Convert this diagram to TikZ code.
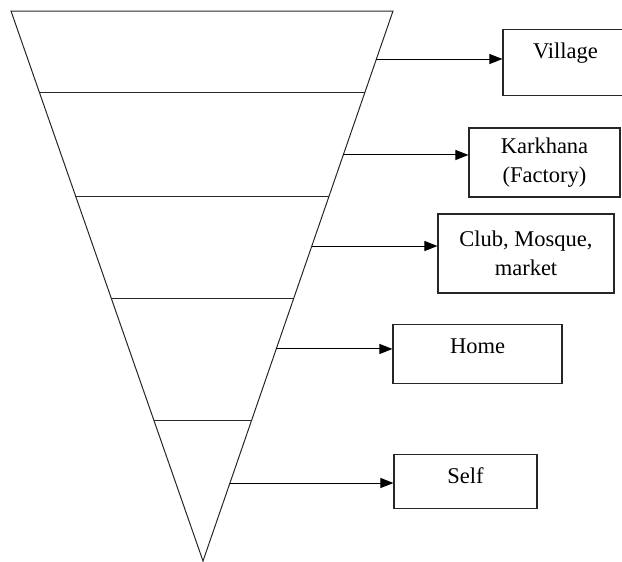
\documentclass[tikz,border=0pt]{standalone}
\usepackage{fontspec}
\setmainfont{Liberation Serif}
\usetikzlibrary{calc,arrows.meta}
\newcommand{\levelfont}{\fontsize{22.5}{29.5}\selectfont}
\tikzstyle{funnel}=[line width=1pt, black!85]
\tikzstyle{level}=[draw, line width=1.1pt, black!85, text=black, align=center, inner sep=0pt, font=\levelfont]
\tikzstyle{level top}=[level, anchor=north, text height=29pt, text depth=#1]
\tikzstyle{connect arrow}=[-{Triangle[length=13pt,width=10pt]}, line width=1pt, black]

\begin{document}
\begin{tikzpicture}[x=1pt, y=-1pt]
\useasboundingbox (0,0) rectangle (622,562);
\clip (0,0) rectangle (622,562);

% Funnel
\coordinate (tl) at (11,11);
\coordinate (tr) at (393,11);
\coordinate (apex) at (203,561);
\draw[funnel] (tl) -- (tr) -- (apex) -- cycle;
\draw[funnel] ($(tl)!0.149!(apex)$) -- ($(tr)!0.149!(apex)$);
\draw[funnel] ($(tl)!0.338!(apex)$) -- ($(tr)!0.338!(apex)$);
\draw[funnel] ($(tl)!0.522!(apex)$) -- ($(tr)!0.522!(apex)$);
\draw[funnel] ($(tl)!0.745!(apex)$) -- ($(tr)!0.745!(apex)$);

% Arrow starts on the funnel
\coordinate (s1) at ($(tr)!0.0873!(apex)$);
\coordinate (s2) at ($(tr)!0.2618!(apex)$);
\coordinate (s3) at ($(tr)!0.4273!(apex)$);
\coordinate (s4) at ($(tr)!0.6145!(apex)$);
\coordinate (s5) at ($(tr)!0.8582!(apex)$);

% Levels
\node[level top=37pt, minimum width=125pt] (village) at (565.5,29) {Village};
\node[level, minimum width=151pt, minimum height=69pt] (karkhana) at (544.5,162.5) {Karkhana\\(Factory)};
\node[level, minimum width=176pt, minimum height=79pt] (club) at (526,253.5) {Club, Mosque,\\market};
\node[level top=30pt, minimum width=169pt] (home) at (477.5,324) {Home};
\node[level top=25pt, minimum width=143pt] (self) at (465.5,454) {Self};

\begin{scope}[connect arrow]
    \draw (s1) -- (s1 -| village.west);
    \draw (s2) -- (s2 -| karkhana.west);
    \draw (s3) -- (s3 -| club.west);
    \draw (s4) -- (s4 -| home.west);
    \draw (s5) -- (s5 -| self.west);
\end{scope}

\end{tikzpicture}
\end{document}
